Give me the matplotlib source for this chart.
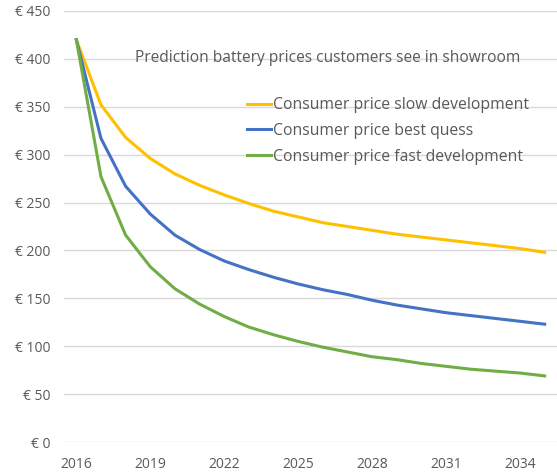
import matplotlib

matplotlib.use("Agg")
import matplotlib.pyplot as plt

years = list(range(2016, 2036))
slow = [420, 352, 318, 296, 280, 268, 258, 249, 241, 235, 229, 225, 221,
        217, 214, 211, 208, 205, 202, 198]
best = [420, 317, 267, 238, 216, 201, 189, 180, 172, 165, 159, 154, 148,
        143, 139, 135, 132, 129, 126, 123]
fast = [420, 277, 216, 183, 160, 144, 131, 120, 112, 105, 99, 94, 89,
        86, 82, 79, 76, 74, 72, 69]
series_labels = ["Consumer price slow development",
                 "Consumer price best quess",
                 "Consumer price fast development"]
title = "Prediction battery prices customers see in showroom"
y_ticks = list(range(0, 451, 50))
x_tick_years = list(range(2016, 2036, 3))

text_color = "#595959"
plt.rcParams["font.family"] = ["Open Sans", "DejaVu Sans"]

fig = plt.figure(figsize=(5.57, 4.74), dpi=100)
ax = fig.add_axes([64 / 557, 32 / 474, 493 / 557, 431 / 474])

x = list(range(len(years)))
ax.plot(x, slow, color="#FFC000", linewidth=2.2, label=series_labels[0])
ax.plot(x, best, color="#4472C4", linewidth=2.2, label=series_labels[1])
ax.plot(x, fast, color="#70AD47", linewidth=2.2, label=series_labels[2])

ax.set_xlim(-0.5, len(years) - 0.5)
ax.set_ylim(0, 450)
ax.set_yticks(y_ticks)
ax.set_yticklabels([f"€ {v}" for v in y_ticks])
ax.set_xticks([years.index(y) for y in x_tick_years])
ax.set_xticklabels([str(y) for y in x_tick_years])
ax.tick_params(length=0, labelsize=10, colors=text_color)
ax.tick_params(axis="x", pad=11)
ax.tick_params(axis="y", pad=10)
ax.grid(axis="y", color="#D9D9D9", linewidth=1)
ax.set_axisbelow(True)
for spine in ax.spines.values():
    spine.set_visible(False)

ax.text(0.535, 0.891, title, transform=ax.transAxes, ha="center", va="center",
        fontsize=11.2, color=text_color)

leg = ax.legend(loc="upper left", bbox_to_anchor=(0.372, 0.800), frameon=False,
                fontsize=11.3, handlelength=1.5, handletextpad=0.15,
                labelspacing=0.62, borderaxespad=0, borderpad=0)
for t in leg.get_texts():
    t.set_color(text_color)

fig.savefig("out.png", dpi=100)
